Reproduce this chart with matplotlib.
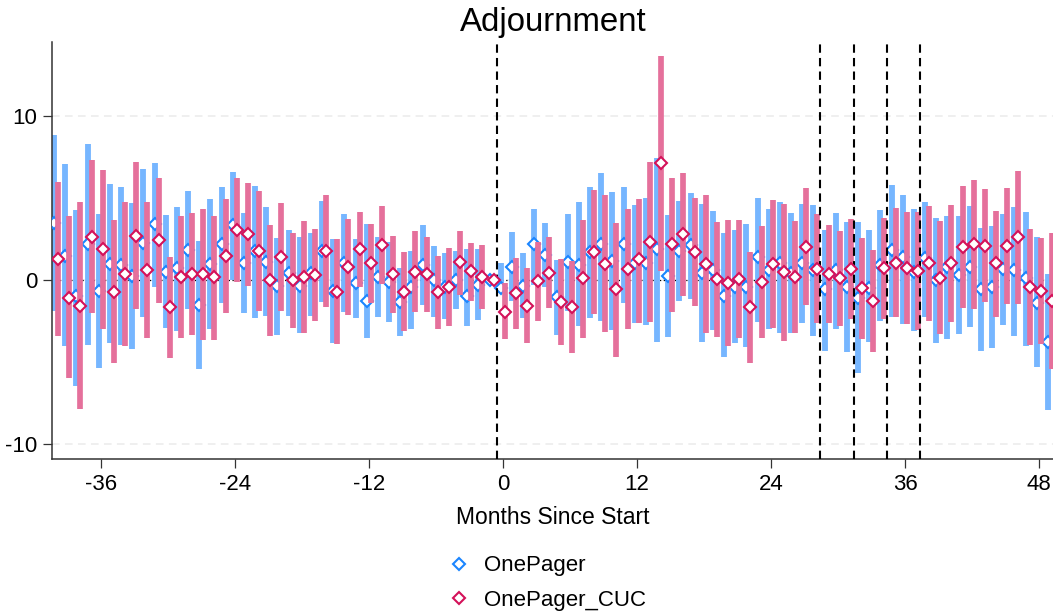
import matplotlib
matplotlib.use("Agg")
import matplotlib.pyplot as plt
from matplotlib.lines import Line2D
import numpy as np

plt.rcParams['font.family'] = ['Liberation Sans', 'DejaVu Sans']
plt.rcParams['axes.unicode_minus'] = False

months = list(range(-40, 50))

onepager_est = [3.49, 1.48, -0.97, 2.17, -0.65, 0.99, 0.89, 0.26, 2.27, 3.43,
                0.51, 0.75, 1.83, -1.52, 0.99, 2.19, 3.35, 1.05, 1.78, 1.12,
                -0.37, 0.41, -0.37, 0.41, 1.78, -0.65, 1.05, -0.20, -1.26, 0.16,
                -0.14, -1.36, -0.41, 0.91, 0.00, -0.45, 0.00, -0.95, -0.30, 0.00,
                -0.51, 0.81, -0.37, 2.19, 1.52, -1.01, 1.12, 0.91, 1.68, 2.19,
                1.18, 2.19, 1.01, 1.01, 1.89, 0.24, 1.78, 2.13, 0.41, 0.61,
                -0.97, -0.41, -0.41, 1.42, 0.61, 1.05, 0.41, 1.05, 0.61, -0.57,
                0.61, -0.41, -1.12, -0.51, 0.91, 1.83, 1.42, 0.51, 1.32, 0.00,
                0.81, 0.30, 0.81, -0.57, -0.41, 0.65, 0.61, 0.10, -1.38, -3.75]
onepager_lo = [-1.87, -4.00, -6.43, -3.96, -5.33, -3.81, -3.96, -4.20, -2.23, -0.41,
               -2.90, -3.08, -1.76, -5.42, -2.96, -1.38, 0.00, -2.03, -2.29, -2.19,
               -3.37, -2.17, -3.20, -2.19, -1.32, -3.81, -1.97, -2.33, -3.55, -2.23,
               -2.54, -3.41, -2.96, -1.52, -2.23, -2.39, -1.78, -2.80, -2.43, 0.00,
               -0.81, -1.26, -2.29, -0.30, -0.41, -3.35, -1.87, -2.80, -2.29, -2.49,
               -3.04, -1.42, -2.60, -2.74, -3.75, -3.45, -1.26, -1.18, -3.75, -3.04,
               -4.67, -3.81, -4.10, -2.54, -3.00, -3.20, -3.25, -2.60, -3.41, -4.30,
               -3.00, -4.36, -5.68, -3.75, -2.47, -2.23, -2.68, -3.10, -2.23, -3.81,
               -3.59, -3.31, -2.88, -4.30, -4.12, -2.74, -3.41, -4.00, -5.31, -7.91]
onepager_hi = [8.82, 7.04, 4.26, 8.26, 4.00, 5.82, 5.68, 4.71, 6.73, 7.14,
               3.96, 4.46, 5.42, 2.37, 4.91, 5.66, 6.55, 4.06, 5.74, 4.42,
               2.58, 3.02, 2.64, 2.84, 4.79, 2.49, 4.00, 2.49, 3.43, 2.64,
               2.29, 0.75, 1.76, 3.33, 2.09, 1.62, 1.78, 1.89, 1.87, 0.00,
               1.01, 2.94, 1.62, 4.32, 3.45, 1.22, 4.00, 4.73, 5.68, 6.53,
               5.35, 5.64, 4.56, 4.97, 7.42, 3.96, 4.79, 5.27, 4.62, 4.18,
               2.84, 3.04, 3.39, 4.97, 4.32, 4.73, 4.06, 4.62, 4.56, 3.04,
               4.08, 3.55, 3.55, 3.04, 4.26, 5.78, 5.17, 4.30, 4.73, 3.75,
               3.91, 3.91, 4.50, 3.14, 3.27, 4.02, 4.46, 4.14, 2.62, 0.37]

cuc_est = [1.28, -1.08, -1.56, 2.64, 1.87, -0.73, 0.34, 2.68, 0.61, 2.43,
           -1.66, 0.16, 0.34, 0.34, 0.16, 1.46, 3.04, 2.80, 1.76, 0.00,
           1.40, 0.00, 0.16, 0.30, 1.78, -0.75, 0.79, 1.87, 1.05, 2.13,
           0.34, -0.71, 0.51, 0.34, -0.75, -0.41, 1.08, 0.55, 0.20, 0.00,
           -1.93, -0.81, -1.56, -0.04, 0.45, -1.32, -1.66, 0.10, 1.72, 0.97,
           -0.57, 0.65, 1.26, 2.33, 7.10, 2.17, 2.80, 1.72, 0.95, 0.04,
           -0.20, 0.06, -1.66, -0.14, 0.97, 0.47, 0.20, 2.03, 0.69, 0.34,
           0.10, 0.69, -0.51, -1.26, 0.75, 1.05, 0.73, 0.57, 1.05, 0.14,
           1.01, 2.03, 2.17, 2.09, 1.01, 2.09, 2.64, -0.41, -0.65, -1.26]
cuc_lo = [-3.39, -5.98, -7.87, -1.99, -3.00, -5.07, -4.04, -1.78, -3.53, -1.38,
          -4.77, -3.55, -3.35, -3.65, -3.65, -1.99, -0.14, -0.34, -1.89, -3.41,
          -1.87, -2.94, -3.25, -2.49, -1.62, -3.91, -2.13, -0.41, -1.38, -0.26,
          -1.99, -3.08, -1.97, -1.93, -3.00, -2.80, -0.91, -1.26, -1.74, 0.00,
          -3.61, -2.96, -3.81, -2.47, -1.72, -3.96, -4.46, -3.51, -2.07, -3.18,
          -4.67, -2.96, -2.60, -2.54, 0.57, -1.95, -0.97, -1.58, -3.25, -3.45,
          -4.02, -3.51, -5.07, -3.55, -2.90, -3.71, -3.25, -1.52, -2.60, -2.64,
          -2.80, -2.35, -3.61, -4.36, -2.39, -2.27, -2.68, -3.04, -2.49, -3.29,
          -2.54, -1.68, -1.76, -1.36, -2.25, -1.44, -1.48, -3.96, -3.89, -5.44]
cuc_hi = [5.94, 3.89, 4.77, 7.30, 6.69, 3.63, 4.73, 7.18, 4.75, 6.23,
          1.42, 3.89, 4.10, 4.32, 3.89, 4.91, 6.23, 5.88, 5.44, 3.33,
          4.67, 2.88, 3.57, 3.12, 5.17, 2.49, 3.71, 4.14, 3.41, 4.50,
          2.68, 1.70, 2.96, 2.64, 1.46, 1.93, 3.00, 2.27, 2.13, 0.00,
          -0.20, 1.34, 0.71, 2.33, 2.60, 1.28, 1.16, 3.65, 5.48, 5.15,
          3.49, 4.30, 4.95, 7.18, 13.63, 6.23, 6.49, 4.99, 5.15, 3.53,
          3.63, 3.65, 1.72, 3.31, 4.85, 4.62, 3.57, 5.58, 4.02, 3.33,
          2.98, 3.71, 2.56, 1.83, 3.79, 4.36, 4.12, 4.12, 4.52, 3.57,
          4.58, 5.72, 6.06, 5.56, 4.22, 5.60, 6.65, 3.10, 2.58, 2.84]

event_lines = [-0.5, 28.4, 31.4, 34.35, 37.3]
xticks = [-36, -24, -12, 0, 12, 24, 36, 48]
yticks = [-10, 0, 10]
series_names = ["OnePager", "OnePager_CUC"]

blue_mark, blue_bar = '#1A85FF', '#76B6FF'
pink_mark, pink_bar = '#D41159', '#E5709B'

fig = plt.figure(figsize=(10.53, 6.12), dpi=100)
ax = fig.add_axes([0.0491, 0.25, 0.9509, 0.6814])

m = np.array(months, dtype=float)
xb = m - 0.2
xp = m + 0.15

for yv in yticks:
    ax.axhline(yv, color='#ebebeb', lw=1.1, ls=(0, (5, 3.5)), zorder=0.5)
ax.axhline(0, color='black', lw=0.9, ls=(0, (1, 2)), zorder=1)

ax.vlines(xb, onepager_lo, onepager_hi, colors=blue_bar, lw=4.2, zorder=2)
ax.plot(xb, onepager_est, ls='none', marker='D', ms=6.3, mfc='white',
        mec=blue_mark, mew=1.5, zorder=3)
ax.vlines(xp, cuc_lo, cuc_hi, colors=pink_bar, lw=4.1, zorder=4)
for xv in event_lines:
    ax.axvline(xv, color='black', lw=1.5, ls=(0, (4, 2.5)), zorder=4.5)
ax.plot(xp, cuc_est, ls='none', marker='D', ms=6.3, mfc='white',
        mec=pink_mark, mew=1.5, zorder=5)

ax.set_xlim(-40.42, 49.25)
ax.set_ylim(-10.9, 14.49)
ax.set_xticks(xticks)
ax.set_yticks(yticks)
for s in ['top', 'right']:
    ax.spines[s].set_visible(False)
for s in ['left', 'bottom']:
    ax.spines[s].set_color('#333333')
    ax.spines[s].set_linewidth(1.1)
ax.tick_params(axis='both', length=6.5, width=0.9, color='#333333',
               labelsize=16, pad=4)
ax.set_xlabel('Months Since Start', fontsize=16.5, labelpad=8)

fig.text(0.5255, 1 - 31 / 612, 'Adjournment', fontsize=23.8, ha='center', va='baseline')

handles = [Line2D([], [], ls='none', marker='D', ms=6.3, mfc='white', mec=c, mew=1.5)
           for c in (blue_mark, pink_mark)]
fig.legend(handles, series_names, loc='center', bbox_to_anchor=(0.5195, 1 - 583 / 612),
           frameon=False, fontsize=16, handlelength=1, handletextpad=0.6,
           labelspacing=0.6, borderpad=0)

fig.savefig('out.png', dpi=100)
